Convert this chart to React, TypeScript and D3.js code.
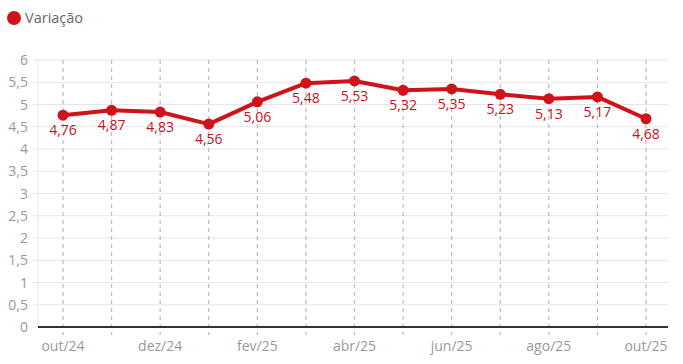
import React from "react";
import * as d3 from "d3";

const categories = ["out/24","nov/24","dez/24","jan/25","fev/25","mar/25","abr/25","mai/25","jun/25","jul/25","ago/25","set/25","out/25"];
const values = [4.76, 4.87, 4.83, 4.56, 5.06, 5.48, 5.53, 5.32, 5.35, 5.23, 5.13, 5.17, 4.68];
const yTicks = [0, 0.5, 1, 1.5, 2, 2.5, 3, 3.5, 4, 4.5, 5, 5.5, 6];
const seriesName = "Variação";

const W = 683, H = 364;
const RED = "#d0121b";
const FONT = "'Open Sans', sans-serif";
const fmt = (v: number) => String(v).replace(".", ",");

export default function App() {
  const plotLeft = 38, plotRight = 668;
  const x = d3.scalePoint<string>().domain(categories).range([63, 646]);
  const y = d3.scaleLinear().domain([0, 6]).range([327, 60]);
  const line = d3.line<number>().x((_, i) => x(categories[i])!).y(d => y(d));
  return (
    <svg width={W} height={H} style={{ position: "absolute", left: 0, top: 0 }} fontFamily={FONT}>
      <circle cx={14} cy={18} r={7} fill={RED} />
      <text x={25} y={23} fontSize={14.5} fill="#666">{seriesName}</text>
      {yTicks.map(t => (
        <g key={t}>
          <line x1={33} x2={plotRight} y1={y(t)} y2={y(t)} stroke="#e6e6e6" strokeWidth={1} />
          <text x={28} y={y(t) + 5} fontSize={14} fill="#999" textAnchor="end">{fmt(t)}</text>
        </g>
      ))}
      <line x1={plotLeft} x2={plotLeft} y1={60} y2={327} stroke="#e6e6e6" />
      {categories.map(c => (
        <line key={c} x1={x(c)} x2={x(c)} y1={60} y2={335} stroke="#bbb" strokeWidth={1.2} strokeDasharray="4,4" />
      ))}
      <line x1={plotLeft} x2={plotRight} y1={327} y2={327} stroke="#333" strokeWidth={2} />
      {categories.map((c, i) => i % 2 === 0 ? (
        <text key={c} x={x(c)} y={351} fontSize={14} fill="#999" textAnchor="middle">{c}</text>
      ) : null)}
      <path d={line(values)!} fill="none" stroke={RED} strokeWidth={4} strokeLinejoin="round" />
      {values.map((v, i) => (
        <g key={i}>
          <circle cx={x(categories[i])} cy={y(v)} r={5.5} fill={RED} />
          <text x={x(categories[i])} y={y(v) + 20} fontSize={14} fill="#c4101c" textAnchor="middle">{fmt(v)}</text>
        </g>
      ))}
    </svg>
  );
}
